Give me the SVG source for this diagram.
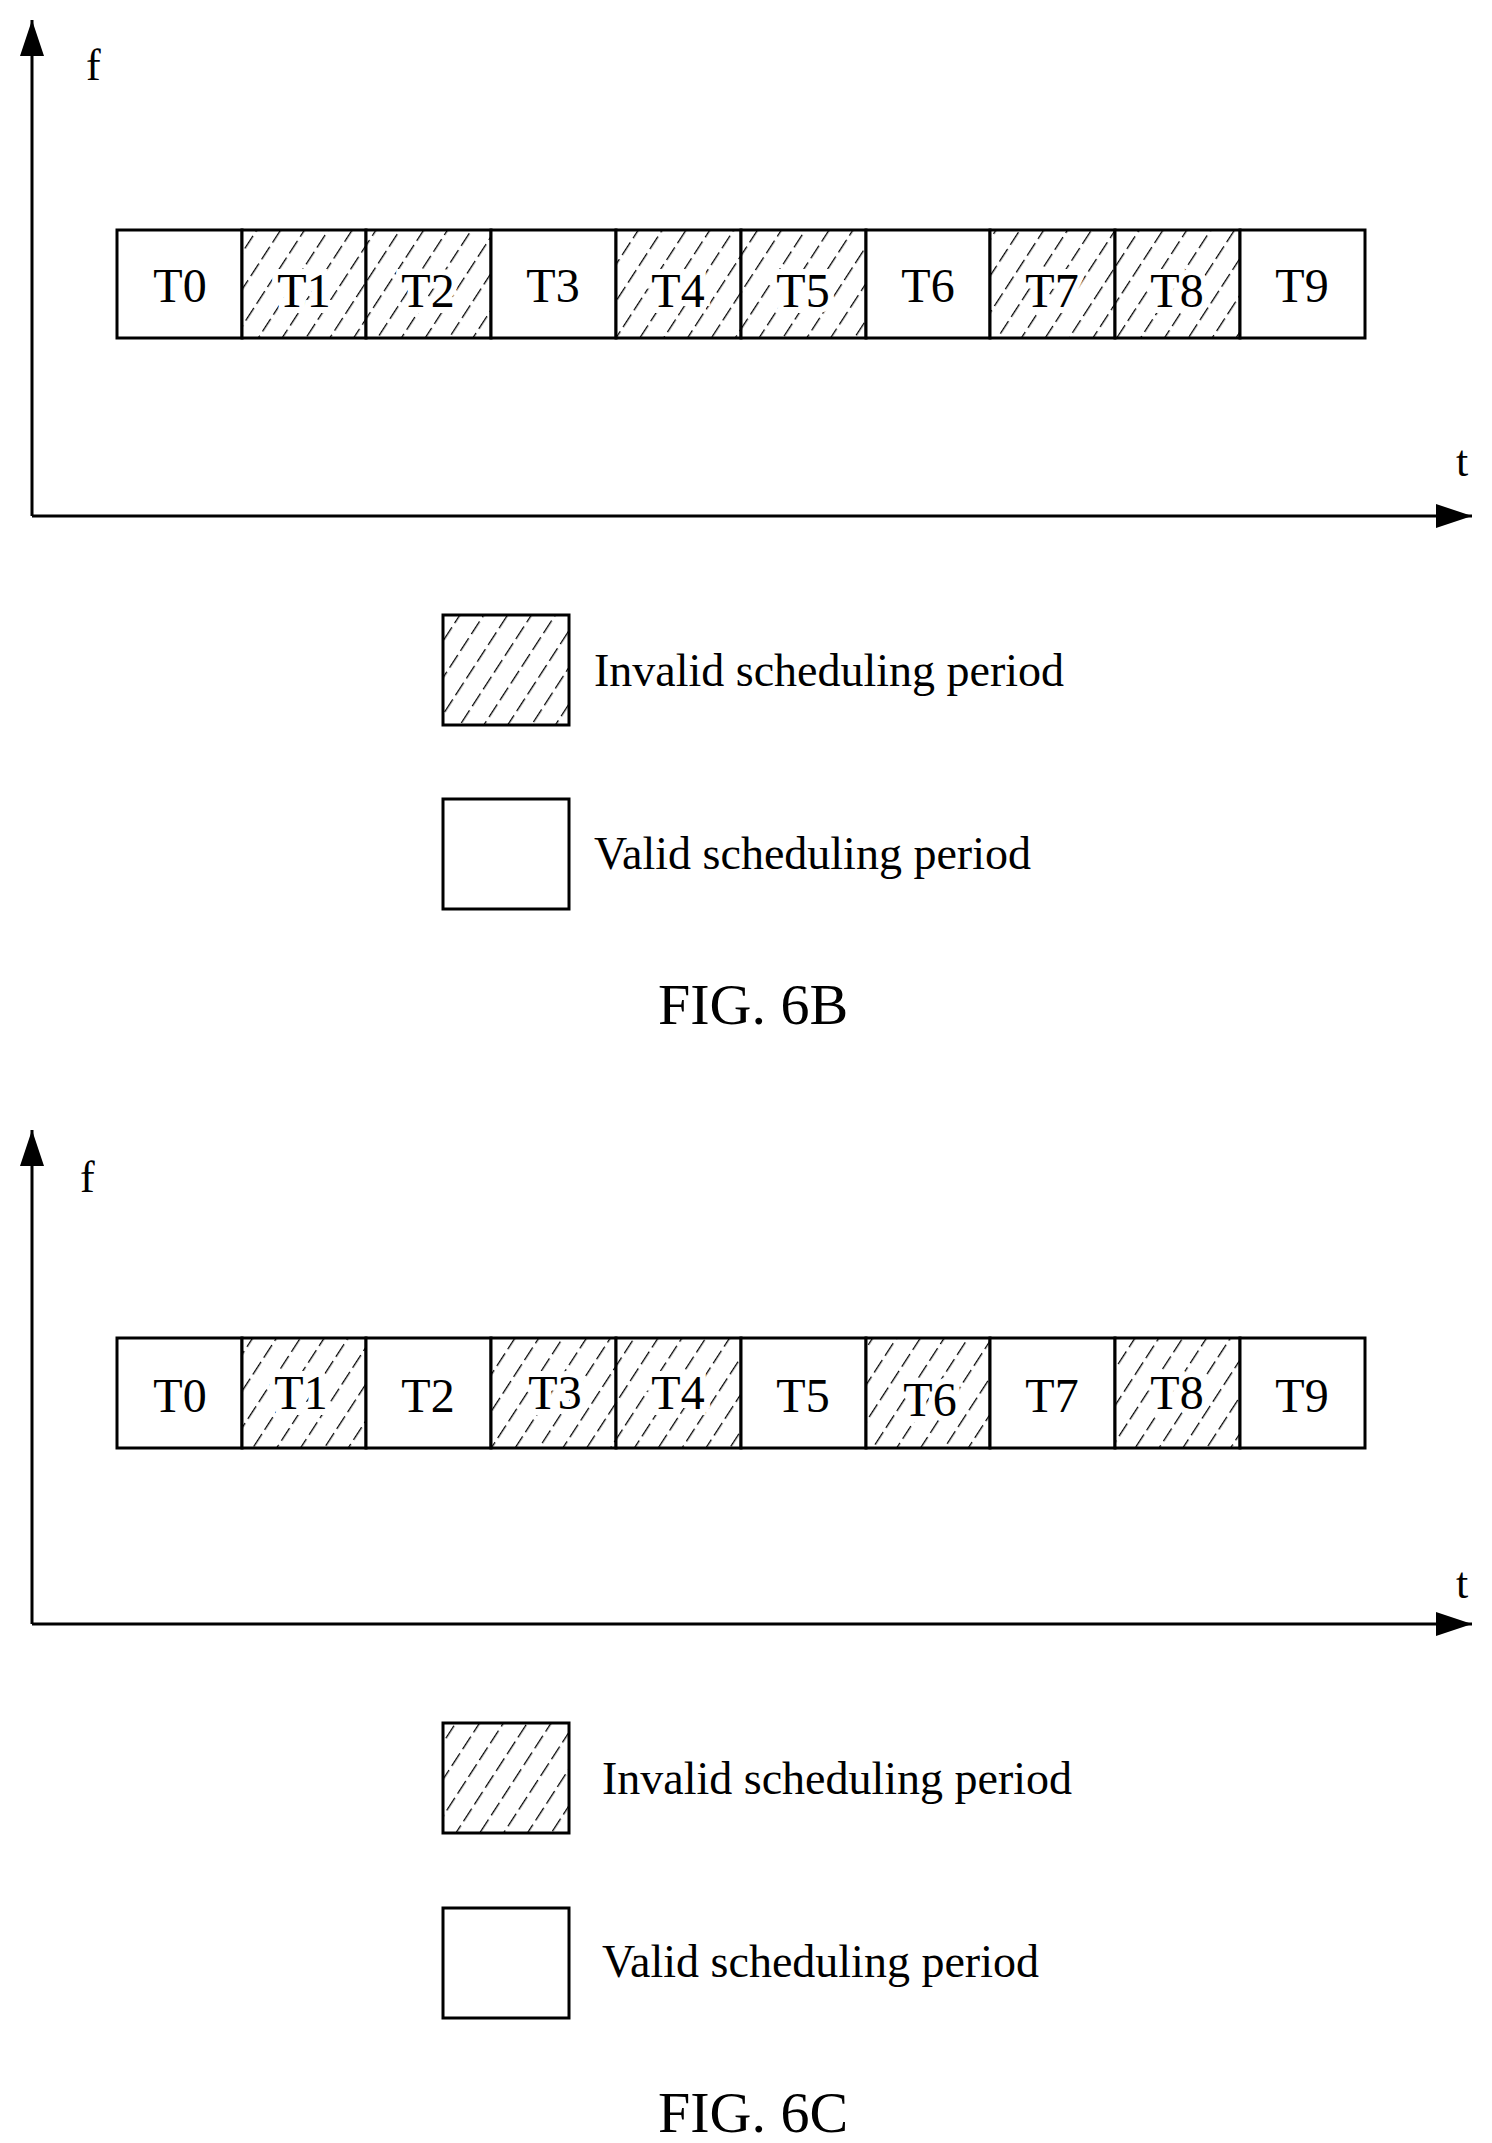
<svg xmlns="http://www.w3.org/2000/svg" width="1492" height="2143" viewBox="0 0 1492 2143">
<style>
text{font-family:"Liberation Serif",serif;fill:#000}
.lbl{font-size:48px;text-anchor:middle}
.leg{font-size:46px}
.fig{font-size:58px;text-anchor:middle}
.ax{font-size:44px}
.box{stroke:#000;stroke-width:3;fill:#fff}
.hb{stroke:#000;stroke-width:3;fill:url(#hatch)}
.axis{stroke:#000;stroke-width:3;fill:none}
.halo{stroke:#fff;stroke-width:12;paint-order:stroke}
</style>
<defs>
<pattern id="hatch" patternUnits="userSpaceOnUse" width="20" height="20" patternTransform="rotate(33)">
<rect width="20" height="20" fill="#fff"/>
<line x1="0" y1="0" x2="0" y2="20" stroke="#000" stroke-width="2.6" stroke-dasharray="15 5"/>
</pattern>
<marker id="arrB" viewBox="0 0 36 24" refX="36" refY="12" markerWidth="36" markerHeight="24" orient="auto" markerUnits="userSpaceOnUse">
<path d="M0,0 L36,12 L0,24 Z" fill="#000"/>
</marker>
</defs>

<g id="connectors">
<line class="axis" x1="32" y1="516" x2="32" y2="20" marker-end="url(#arrB)"/>
<line class="axis" x1="32" y1="516" x2="1472" y2="516" marker-end="url(#arrB)"/>
<line class="axis" x1="32" y1="1624" x2="32" y2="1130" marker-end="url(#arrB)"/>
<line class="axis" x1="32" y1="1624" x2="1472" y2="1624" marker-end="url(#arrB)"/>
</g>

<g id="fig6b">
<text class="ax" x="86" y="80">f</text>
<text class="ax" x="1456" y="476">t</text>
<g id="b-T0"><rect class="box" x="117" y="230" width="125" height="108"/><text class="lbl" x="180" y="302">T0</text></g>
<g id="b-T1"><rect class="hb" x="242" y="230" width="124" height="108"/><text class="lbl halo" x="304" y="307">T1</text></g>
<g id="b-T2"><rect class="hb" x="366" y="230" width="125" height="108"/><text class="lbl halo" x="428" y="307">T2</text></g>
<g id="b-T3"><rect class="box" x="491" y="230" width="125" height="108"/><text class="lbl" x="553" y="302">T3</text></g>
<g id="b-T4"><rect class="hb" x="616" y="230" width="125" height="108"/><text class="lbl halo" x="678" y="307">T4</text></g>
<g id="b-T5"><rect class="hb" x="741" y="230" width="125" height="108"/><text class="lbl halo" x="803" y="307">T5</text></g>
<g id="b-T6"><rect class="box" x="866" y="230" width="124" height="108"/><text class="lbl" x="928" y="302">T6</text></g>
<g id="b-T7"><rect class="hb" x="990" y="230" width="125" height="108"/><text class="lbl halo" x="1052" y="307">T7</text></g>
<g id="b-T8"><rect class="hb" x="1115" y="230" width="125" height="108"/><text class="lbl halo" x="1177" y="307">T8</text></g>
<g id="b-T9"><rect class="box" x="1240" y="230" width="125" height="108"/><text class="lbl" x="1302" y="302">T9</text></g>
<g id="b-leg1"><rect class="hb" x="443" y="615" width="126" height="110"/><text class="leg" x="594" y="686">Invalid scheduling period</text></g>
<g id="b-leg2"><rect class="box" x="443" y="799" width="126" height="110"/><text class="leg" x="594" y="869">Valid scheduling period</text></g>
<text class="fig" x="753" y="1024">FIG. 6B</text>
</g>

<g id="fig6c">
<text class="ax" x="80" y="1192">f</text>
<text class="ax" x="1456" y="1598">t</text>
<g id="c-T0"><rect class="box" x="117" y="1338" width="125" height="110"/><text class="lbl" x="180" y="1412">T0</text></g>
<g id="c-T1"><rect class="hb" x="242" y="1338" width="124" height="110"/><text class="lbl halo" x="301" y="1409">T1</text></g>
<g id="c-T2"><rect class="box" x="366" y="1338" width="125" height="110"/><text class="lbl" x="428" y="1412">T2</text></g>
<g id="c-T3"><rect class="hb" x="491" y="1338" width="125" height="110"/><text class="lbl halo" x="555" y="1409">T3</text></g>
<g id="c-T4"><rect class="hb" x="616" y="1338" width="125" height="110"/><text class="lbl halo" x="678" y="1409">T4</text></g>
<g id="c-T5"><rect class="box" x="741" y="1338" width="125" height="110"/><text class="lbl" x="803" y="1412">T5</text></g>
<g id="c-T6"><rect class="hb" x="866" y="1338" width="124" height="110"/><text class="lbl halo" x="930" y="1416">T6</text></g>
<g id="c-T7"><rect class="box" x="990" y="1338" width="125" height="110"/><text class="lbl" x="1052" y="1412">T7</text></g>
<g id="c-T8"><rect class="hb" x="1115" y="1338" width="125" height="110"/><text class="lbl halo" x="1177" y="1409">T8</text></g>
<g id="c-T9"><rect class="box" x="1240" y="1338" width="125" height="110"/><text class="lbl" x="1302" y="1412">T9</text></g>
<g id="c-leg1"><rect class="hb" x="443" y="1723" width="126" height="110"/><text class="leg" x="602" y="1794">Invalid scheduling period</text></g>
<g id="c-leg2"><rect class="box" x="443" y="1908" width="126" height="110"/><text class="leg" x="602" y="1977">Valid scheduling period</text></g>
<text class="fig" x="753" y="2132">FIG. 6C</text>
</g>
</svg>
